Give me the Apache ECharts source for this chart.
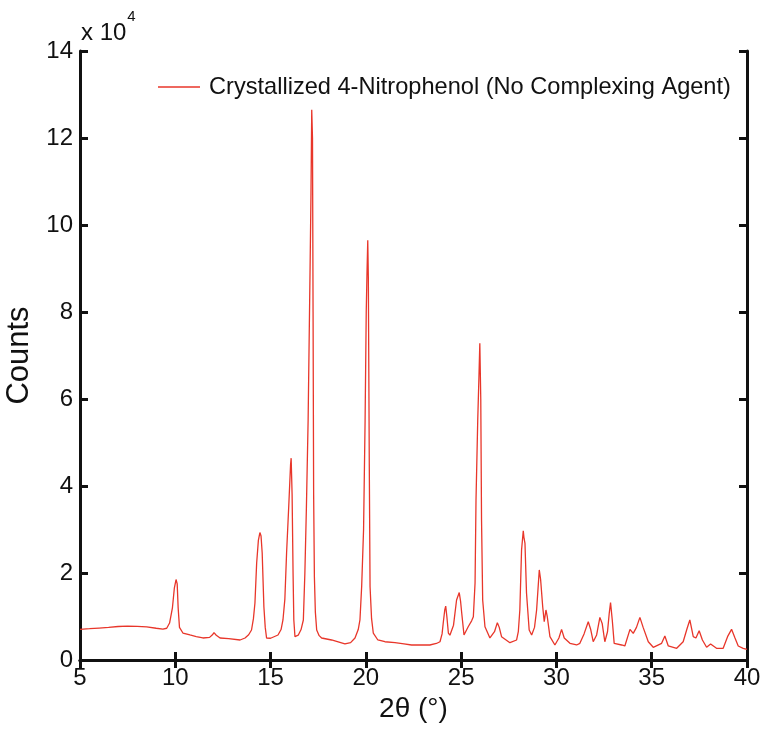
<!DOCTYPE html>
<html>
<head>
<meta charset="utf-8">
<script src="https://cdn.jsdelivr.net/npm/echarts@6/dist/echarts.min.js"></script>
<style>html,body{margin:0;padding:0;background:#fff}#c{width:762px;height:734px}</style>
</head>
<body>
<div id="c"></div>
<script>
const seriesName = 'Crystallized 4-Nitrophenol (No Complexing Agent)';
const xTicks = [5, 10, 15, 20, 25, 30, 35, 40];
const yTicks = [0, 2, 4, 6, 8, 10, 12, 14];
const twoTheta = [
  5.0, 5.5, 6.0, 6.5, 7.0, 7.5, 8.0, 8.5, 9.0, 9.35, 9.55, 9.7, 9.85, 9.95, 10.04, 10.1, 10.15, 10.22, 10.4, 10.77,
  11.1, 11.45, 11.8, 11.95, 12.03, 12.15, 12.35, 12.8, 13.4, 13.66, 13.85, 14.0, 14.1, 14.18, 14.27, 14.36, 14.44, 14.5, 14.56, 14.65,
  14.72, 14.79, 15.0, 15.39, 15.55, 15.65, 15.75, 15.84, 15.95, 16.05, 16.08, 16.13, 16.18, 16.22, 16.28, 16.45, 16.6, 16.72, 16.8, 16.88,
  16.97, 17.07, 17.12, 17.16, 17.2, 17.23, 17.26, 17.3, 17.35, 17.42, 17.55, 17.68, 18.2, 18.9, 19.2, 19.43, 19.6, 19.69, 19.78, 19.88,
  19.96, 20.02, 20.06, 20.1, 20.13, 20.18, 20.22, 20.3, 20.39, 20.63, 21.0, 21.53, 22.0, 22.4, 22.9, 23.36, 23.7, 23.89, 24.0, 24.06,
  24.14, 24.19, 24.25, 24.33, 24.41, 24.6, 24.76, 24.9, 24.97, 25.03, 25.15, 25.37, 25.55, 25.64, 25.73, 25.78, 25.87, 25.93, 25.98, 26.03,
  26.07, 26.13, 26.25, 26.51, 26.75, 26.9, 27.0, 27.12, 27.56, 27.91, 28.0, 28.08, 28.17, 28.26, 28.3, 28.35, 28.43, 28.57, 28.7, 28.85,
  28.96, 29.1, 29.17, 29.28, 29.36, 29.45, 29.52, 29.66, 29.92, 30.13, 30.27, 30.41, 30.71, 31.06, 31.23, 31.45, 31.67, 31.8, 31.93, 32.11,
  32.28, 32.4, 32.54, 32.68, 32.77, 32.84, 32.93, 33.03, 33.42, 33.59, 33.86, 34.03, 34.2, 34.38, 34.55, 34.82, 35.08, 35.52, 35.69, 35.87,
  36.31, 36.65, 36.86, 37.0, 37.18, 37.32, 37.49, 37.66, 37.88, 38.09, 38.4, 38.75, 38.98, 39.19, 39.37, 39.54, 39.8, 40.0
];
const counts = [
  7060, 7200, 7350, 7500, 7700, 7800, 7750, 7600, 7300, 7100, 7300, 8500, 12000, 16500, 18500, 17500, 12000, 7500, 6200, 5750,
  5400, 5060, 5200, 5800, 6300, 5700, 5060, 4900, 4600, 5060, 5800, 6900, 9500, 13100, 22300, 27500, 29300, 28500, 24600, 12200,
  7500, 5060, 5000, 5750, 7000, 9200, 14000, 24600, 35000, 45000, 46400, 38000, 20000, 9200, 5360, 5700, 7000, 9200, 20000, 35000,
  55000, 89000, 107000, 126500, 120000, 80000, 38000, 19000, 11000, 6900, 5600, 5060, 4600, 3680, 4000, 5060, 7000, 9200, 16900, 30000,
  55000, 80000, 89000, 96500, 88000, 45000, 16900, 9500, 6200, 4600, 4200, 3980, 3700, 3450, 3500, 3450, 3800, 4200, 6000, 8500,
  11500, 12400, 10000, 6200, 5700, 8000, 13800, 15500, 13500, 10800, 5750, 7650, 9000, 9950, 17700, 36800, 55000, 64400, 72800, 60000,
  32200, 13800, 7650, 5060, 6500, 8580, 7500, 5360, 3980, 4600, 6500, 11500, 25300, 29700, 28000, 26800, 15400, 6900, 5750, 7500,
  11500, 20700, 18500, 12250, 8800, 11500, 9950, 5360, 3450, 5060, 7050, 5060, 3830, 3450, 3830, 6000, 8800, 7000, 4200, 5750,
  9800, 8400, 4200, 6500, 10700, 13200, 9200, 3830, 3450, 3220, 7050, 6130, 7500, 9800, 7500, 4200, 2920, 3830, 5520, 3220,
  2690, 4200, 7290, 9200, 5360, 5050, 6740, 4600, 2920, 3680, 2690, 2690, 5360, 7050, 5050, 3220, 2690, 2460
];

const FONT = '"Liberation Sans", Arial, sans-serif';
const chart = echarts.init(document.getElementById('c'), null, {renderer: 'canvas'});
const pts = twoTheta.map((x, i) => [x, counts[i]]);
const axisLine = {show: true, lineStyle: {color: '#111', width: 3}};
const axisTick = {show: true, inside: true, length: 8, lineStyle: {color: '#111', width: 3}};

chart.setOption({
  animation: false,
  backgroundColor: '#fff',
  grid: {left: 80, right: 15, top: 51, bottom: 74, containLabel: false, outerBoundsMode: 'none'},
  legend: {
    show: true,
    left: 153, top: 70,
    itemWidth: 42, itemHeight: 16,
    icon: 'path://M0,7 L42,7 L42,8.3 L0,8.3 Z',
    textStyle: {fontFamily: FONT, fontSize: 23.6, color: '#111', padding: [0, 0, 0, 4]},
    data: [seriesName]
  },
  graphic: [{
    type: 'text', left: 81, top: 9,
    style: {
      text: '{a|x 10}{b|4}',
      rich: {
        a: {fontFamily: FONT, fontSize: 24, fill: '#111', verticalAlign: 'bottom', padding: [12, 1, 0, 0]},
        b: {fontFamily: FONT, fontSize: 15, fill: '#111', verticalAlign: 'top'}
      }
    }
  }],
  xAxis: [{
    type: 'value', min: 5, max: 40, interval: 5, position: 'bottom',
    name: '2θ (°)', nameLocation: 'middle', nameGap: 30,
    nameTextStyle: {fontFamily: FONT, fontSize: 28, color: '#111'},
    axisLine: axisLine, axisTick: axisTick,
    axisLabel: {show: true, margin: 6, fontFamily: FONT, fontSize: 24, color: '#111',
      formatter: v => xTicks.includes(v) ? String(v) : ''},
    splitLine: {show: false}
  }, {
    type: 'value', min: 5, max: 40, interval: 5, position: 'top',
    axisLine: axisLine, axisTick: axisTick, axisLabel: {show: false}, splitLine: {show: false}
  }],
  yAxis: [{
    type: 'value', min: 0, max: 140000, interval: 20000, position: 'left',
    name: 'Counts', nameLocation: 'middle', nameGap: 41,
    nameTextStyle: {fontFamily: FONT, fontSize: 31, color: '#111'},
    axisLine: axisLine, axisTick: axisTick,
    axisLabel: {show: true, margin: 7, fontFamily: FONT, fontSize: 24, color: '#111',
      formatter: v => String(yTicks[Math.round(v / 20000)])},
    splitLine: {show: false}
  }, {
    type: 'value', min: 0, max: 140000, interval: 20000, position: 'right',
    axisLine: axisLine, axisTick: axisTick, axisLabel: {show: false}, splitLine: {show: false}
  }],
  series: [{
    name: seriesName,
    type: 'line',
    xAxisIndex: 0, yAxisIndex: 0,
    data: pts,
    showSymbol: false,
    symbol: 'none',
    lineStyle: {color: '#e8362a', width: 1.3},
    itemStyle: {color: '#e8362a'},
    z: 1
  }]
});
</script>
</body>
</html>
